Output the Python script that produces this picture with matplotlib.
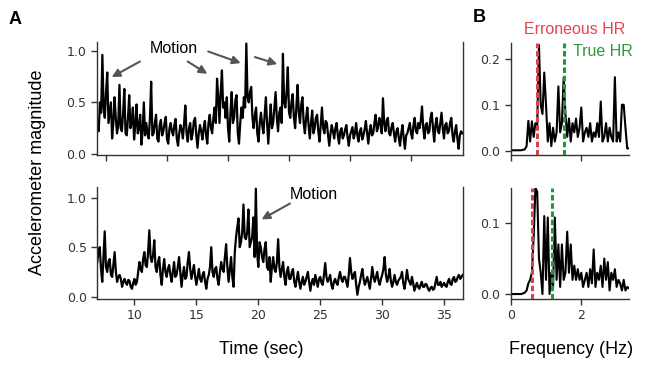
import numpy as np
import matplotlib
matplotlib.use("Agg")
import matplotlib.pyplot as plt

# ---------------- data ----------------
dt = 0.1
top_t0 = 9.3
top_acc = [
    0.30, 0.22, 0.50, 0.40, 0.96, 0.45, 0.35, 0.60, 0.79, 0.30, 0.40, 0.50, 0.15, 0.30, 0.55, 0.35, 0.20, 0.28, 0.67, 0.25,
    0.22, 0.40, 0.63, 0.20, 0.18, 0.35, 0.57, 0.25, 0.30, 0.45, 0.14, 0.28, 0.48, 0.20, 0.25, 0.38, 0.09, 0.22, 0.50, 0.18,
    0.30, 0.20, 0.15, 0.35, 0.70, 0.18, 0.20, 0.30, 0.38, 0.15, 0.12, 0.28, 0.33, 0.18, 0.22, 0.30, 0.36, 0.14, 0.10, 0.25,
    0.30, 0.22, 0.18, 0.28, 0.34, 0.15, 0.08, 0.20, 0.28, 0.24, 0.15, 0.30, 0.47, 0.20, 0.12, 0.25, 0.30, 0.14, 0.20, 0.32,
    0.35, 0.18, 0.06, 0.20, 0.28, 0.22, 0.14, 0.25, 0.32, 0.18, 0.10, 0.30, 0.38, 0.25, 0.20, 0.35, 0.45, 0.30, 0.73, 0.55,
    0.30, 0.60, 0.81, 0.45, 0.50, 0.35, 0.55, 0.25, 0.12, 0.40, 0.60, 0.30, 0.35, 0.52, 0.57, 0.20, 0.10, 0.30, 0.45, 0.35,
    0.55, 0.45, 1.07, 0.55, 0.50, 0.60, 0.65, 0.35, 0.25, 0.38, 0.45, 0.20, 0.12, 0.30, 0.40, 0.28, 0.20, 0.38, 0.55, 0.30,
    0.10, 0.30, 0.48, 0.25, 0.30, 0.45, 0.60, 0.35, 0.22, 0.40, 0.45, 0.30, 0.97, 0.50, 0.45, 0.60, 0.84, 0.40, 0.35, 0.50,
    0.58, 0.35, 0.25, 0.45, 0.67, 0.40, 0.30, 0.48, 0.55, 0.30, 0.20, 0.35, 0.45, 0.28, 0.15, 0.30, 0.42, 0.20, 0.25, 0.35,
    0.38, 0.22, 0.12, 0.28, 0.45, 0.25, 0.20, 0.32, 0.30, 0.18, 0.08, 0.20, 0.28, 0.22, 0.15, 0.25, 0.30, 0.18, 0.10, 0.22,
    0.25, 0.15, 0.18, 0.24, 0.28, 0.16, 0.08, 0.18, 0.22, 0.26, 0.15, 0.20, 0.30, 0.18, 0.12, 0.22, 0.25, 0.14, 0.18, 0.24,
    0.32, 0.20, 0.10, 0.22, 0.28, 0.18, 0.20, 0.30, 0.38, 0.22, 0.25, 0.35, 0.30, 0.20, 0.54, 0.30, 0.22, 0.32, 0.35, 0.20,
    0.18, 0.26, 0.30, 0.20, 0.12, 0.22, 0.25, 0.15, 0.08, 0.20, 0.28, 0.15, 0.05, 0.18, 0.20, 0.25, 0.30, 0.20, 0.15, 0.28,
    0.35, 0.22, 0.20, 0.30, 0.25, 0.32, 0.46, 0.25, 0.15, 0.28, 0.30, 0.20, 0.22, 0.35, 0.40, 0.25, 0.12, 0.28, 0.35, 0.22,
    0.20, 0.30, 0.40, 0.25, 0.15, 0.28, 0.30, 0.20, 0.22, 0.30, 0.35, 0.18, 0.12, 0.22, 0.28, 0.15, 0.05, 0.18, 0.22, 0.20,
]
bot_t0 = 7.0
bot_acc = [
    0.35, 0.45, 0.50, 0.28, 0.15, 0.40, 0.66, 0.30, 0.25, 0.35, 0.38, 0.22, 0.20, 0.32, 0.45, 0.25, 0.15, 0.20, 0.22, 0.18,
    0.10, 0.15, 0.18, 0.14, 0.12, 0.17, 0.16, 0.10, 0.08, 0.14, 0.18, 0.12, 0.15, 0.25, 0.35, 0.28, 0.25, 0.38, 0.45, 0.32,
    0.30, 0.45, 0.67, 0.40, 0.35, 0.42, 0.57, 0.30, 0.25, 0.35, 0.40, 0.22, 0.12, 0.28, 0.38, 0.25, 0.20, 0.28, 0.32, 0.22,
    0.15, 0.25, 0.35, 0.20, 0.22, 0.30, 0.40, 0.25, 0.10, 0.22, 0.30, 0.18, 0.20, 0.35, 0.45, 0.28, 0.18, 0.25, 0.32, 0.20,
    0.12, 0.20, 0.28, 0.18, 0.15, 0.22, 0.25, 0.15, 0.08, 0.18, 0.22, 0.30, 0.50, 0.25, 0.20, 0.28, 0.30, 0.18, 0.12, 0.25,
    0.35, 0.28, 0.25, 0.40, 0.53, 0.30, 0.15, 0.28, 0.40, 0.20, 0.10, 0.45, 0.60, 0.70, 0.79, 0.50, 0.55, 0.65, 0.93, 0.60,
    0.58, 0.65, 0.88, 0.50, 0.55, 0.60, 0.80, 0.40, 1.09, 0.45, 0.30, 0.55, 0.50, 0.40, 0.35, 0.48, 0.55, 0.30, 0.27, 0.40,
    0.15, 0.30, 0.40, 0.28, 0.25, 0.35, 0.58, 0.30, 0.20, 0.28, 0.35, 0.20, 0.12, 0.25, 0.30, 0.18, 0.18, 0.25, 0.28, 0.15,
    0.10, 0.18, 0.25, 0.15, 0.08, 0.15, 0.20, 0.12, 0.15, 0.20, 0.25, 0.15, 0.06, 0.14, 0.18, 0.12, 0.22, 0.16, 0.10, 0.18,
    0.20, 0.14, 0.12, 0.22, 0.34, 0.20, 0.15, 0.18, 0.22, 0.12, 0.08, 0.15, 0.18, 0.14, 0.12, 0.20, 0.25, 0.18, 0.15, 0.20,
    0.20, 0.15, 0.10, 0.22, 0.39, 0.25, 0.18, 0.22, 0.25, 0.12, 0.02, 0.10, 0.15, 0.22, 0.28, 0.18, 0.12, 0.16, 0.20, 0.14,
    0.08, 0.18, 0.30, 0.20, 0.15, 0.20, 0.25, 0.16, 0.12, 0.18, 0.22, 0.28, 0.40, 0.22, 0.15, 0.20, 0.28, 0.16, 0.10, 0.15,
    0.22, 0.15, 0.12, 0.16, 0.18, 0.20, 0.25, 0.14, 0.08, 0.16, 0.27, 0.18, 0.15, 0.12, 0.20, 0.14, 0.06, 0.10, 0.14, 0.10,
    0.08, 0.12, 0.15, 0.10, 0.10, 0.13, 0.12, 0.08, 0.06, 0.09, 0.10, 0.07, 0.08, 0.14, 0.20, 0.12, 0.12, 0.15, 0.10, 0.12,
    0.14, 0.11, 0.10, 0.15, 0.18, 0.13, 0.12, 0.18, 0.20, 0.15, 0.16, 0.20, 0.22, 0.18, 0.20, 0.22,
]

df = 0.05
top_spec = [
    0.001, 0.001, 0.001, 0.001, 0.001, 0.001, 0.001, 0.002, 0.003, 0.010,
    0.065, 0.020, 0.064, 0.030, 0.060, 0.050, 0.230, 0.100, 0.080, 0.170,
    0.100, 0.020, 0.060, 0.010, 0.050, 0.020, 0.040, 0.140, 0.040, 0.060,
    0.160, 0.080, 0.030, 0.070, 0.020, 0.060, 0.040, 0.070, 0.030, 0.050,
    0.094, 0.020, 0.040, 0.050, 0.030, 0.060, 0.020, 0.040, 0.030, 0.060,
    0.030, 0.107, 0.020, 0.030, 0.060, 0.020, 0.050, 0.030, 0.020, 0.160,
    0.020, 0.040, 0.020, 0.100, 0.100, 0.050, 0.005, 0.005,
]
bot_spec = [
    0.000, 0.000, 0.000, 0.000, 0.000, 0.000, 0.000, 0.001, 0.002, 0.005,
    0.015, 0.020, 0.030, 0.080, 0.149, 0.145, 0.050, 0.030, 0.000, 0.110,
    0.020, 0.108, 0.000, 0.030, 0.010, 0.108, 0.020, 0.070, 0.010, 0.070,
    0.020, 0.030, 0.088, 0.030, 0.070, 0.020, 0.040, 0.020, 0.035, 0.020,
    0.030, 0.010, 0.020, 0.030, 0.010, 0.035, 0.015, 0.063, 0.010, 0.030,
    0.020, 0.040, 0.010, 0.050, 0.020, 0.045, 0.005, 0.030, 0.020, 0.035,
    0.010, 0.020, 0.015, 0.005, 0.020, 0.005, 0.010, 0.008,
]

top_err_hr, top_true_hr = 0.75, 1.52
bot_err_hr, bot_true_hr = 0.61, 1.18

acc_yticks = [0.0, 0.5, 1.0]
time_ticks = [10, 15, 20, 25, 30, 35]

# ---------------- figure ----------------
W, H = 648, 371
fig = plt.figure(figsize=(W / 100, H / 100), dpi=100)

def box(l, r, t, b):
    return [l / W, 1 - b / H, (r - l) / W, (b - t) / H]

ax_tl = fig.add_axes(box(97, 463, 42, 155))
ax_bl = fig.add_axes(box(97.3, 462.7, 186.7, 299))
ax_tr = fig.add_axes(box(510.7, 629, 42.7, 155))
ax_br = fig.add_axes(box(510.7, 629, 187.7, 299))

SP = '#333333'
LAB = 'Liberation Sans'

def style(ax, right_spine):
    ax.spines['top'].set_visible(False)
    ax.spines['right'].set_visible(right_spine)
    for s in ax.spines.values():
        s.set_color(SP)
        s.set_linewidth(1.0)
    ax.tick_params(colors=SP, labelcolor='#333333', labelsize=9, length=4, width=1)
    ax.patch.set_alpha(0)

t_top = top_t0 + dt * np.arange(len(top_acc))
t_bot = bot_t0 + dt * np.arange(len(bot_acc))
f_top = df * np.arange(len(top_spec))
f_bot = df * np.arange(len(bot_spec))

ax_tl.plot(t_top, top_acc, color='black', lw=1.6)
ax_tl.set_xlim(9.26, 39.26)
ax_tl.set_ylim(-0.01, 1.085)
ax_tl.set_xticks(time_ticks)
ax_tl.set_xticklabels([])
ax_tl.set_yticks(acc_yticks)
style(ax_tl, True)

ax_bl.plot(t_bot, bot_acc, color='black', lw=1.6)
ax_bl.set_xlim(7.0, 36.5)
ax_bl.set_ylim(-0.023, 1.11)
ax_bl.set_xticks(time_ticks)
ax_bl.set_yticks(acc_yticks)
style(ax_bl, True)

RED = '#d8434f'
GREEN = '#23973a'
DASH = (0, (1.8, 0.9))

ax_tr.plot(f_top, top_spec, color='black', lw=1.5, zorder=2)
ax_tr.axvline(top_err_hr, color=RED, ls=DASH, lw=2.2, zorder=3)
ax_tr.axvline(top_true_hr, color=GREEN, ls=DASH, lw=2.2, zorder=3)
ax_tr.set_xlim(0, 3.35)
ax_tr.set_ylim(-0.0093, 0.235)
ax_tr.set_xticks([0, 2])
ax_tr.set_xticklabels([])
ax_tr.set_yticks([0.0, 0.1, 0.2])
style(ax_tr, False)

ax_br.plot(f_bot, bot_spec, color='black', lw=1.5, zorder=2)
ax_br.axvline(bot_err_hr, color=RED, ls=DASH, lw=2.2, zorder=3)
ax_br.axvline(bot_true_hr, color=GREEN, ls=DASH, lw=2.2, zorder=3)
ax_br.set_xlim(0, 3.35)
ax_br.set_ylim(-0.007, 0.150)
ax_br.set_xticks([0, 2])
ax_br.set_yticks([0.0, 0.1])
style(ax_br, False)

# annotations
ap = dict(arrowstyle='-|>', color='#555555', lw=1.5, mutation_scale=12, shrinkA=0, shrinkB=0)
ax_tl.text(15.57, 1.02, 'Motion', ha='center', va='center', fontsize=11.5, family=LAB, clip_on=False)
for (x0, y0, x1, y1) in [(12.78, 0.896, 10.46, 0.745),
                         (16.69, 0.896, 18.30, 0.777),
                         (18.38, 0.993, 21.04, 0.881),
                         (22.21, 0.939, 24.04, 0.871)]:
    ax_tl.annotate('', xy=(x1, y1), xytext=(x0, y0), annotation_clip=False, arrowprops=ap)

ax_bl.text(24.5, 1.03, 'Motion', ha='center', va='center', fontsize=11.5, family=LAB, clip_on=False)
ax_bl.annotate('', xy=(20.26, 0.78), xytext=(22.55, 0.94), annotation_clip=False, arrowprops=ap)

fig.text(575 / W, 1 - 30 / H, 'Erroneous HR', color='#e0474f', fontsize=11.5, family=LAB,
         ha='center', va='center')
fig.text(603 / W, 1 - 51 / H, 'True HR', color='#2a9c3c', fontsize=11.5, family=LAB,
         ha='center', va='center')

fig.text(15 / W, 1 - 19 / H, 'A', fontsize=13, fontweight='bold', family=LAB, ha='center', va='center')
fig.text(479 / W, 1 - 18 / H, 'B', fontsize=13, fontweight='bold', family=LAB, ha='center', va='center')

fig.text(38 / W, 1 - 172 / H, 'Accelerometer magnitude', rotation=90, fontsize=13, family=LAB,
         ha='center', va='center')
fig.text(261 / W, 1 - 349 / H, 'Time (sec)', fontsize=13, family=LAB, ha='center', va='center')
fig.text(571 / W, 1 - 349 / H, 'Frequency (Hz)', fontsize=13, family=LAB, ha='center', va='center')

fig.savefig('out.png', dpi=100, facecolor='white')
